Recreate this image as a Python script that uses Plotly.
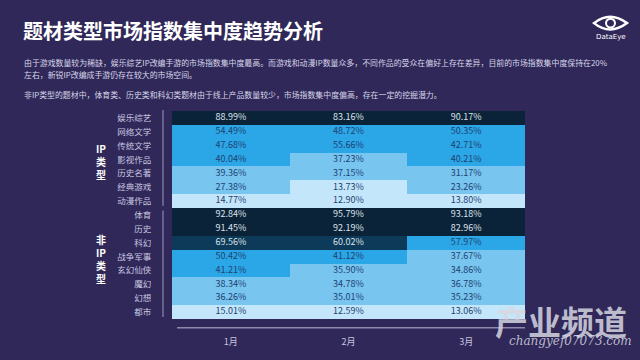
import plotly.graph_objects as go

# ---------------- data ----------------
months = ["1月", "2月", "3月"]
ip_rows = ["娱乐综艺", "网络文学", "传统文学", "影视作品", "历史名著", "经典游戏", "动漫作品"]
non_ip_rows = ["体育", "历史", "科幻", "战争军事", "玄幻仙侠", "魔幻", "幻想", "都市"]
rows = ip_rows + non_ip_rows

jan = [88.99, 54.49, 47.68, 40.04, 39.36, 27.38, 14.77,
       92.84, 91.45, 69.56, 50.42, 41.21, 38.34, 36.26, 15.01]
feb = [83.16, 48.72, 55.66, 37.23, 37.15, 13.73, 12.90,
       95.79, 92.19, 60.02, 41.12, 35.90, 34.78, 35.01, 12.59]
mar = [90.17, 50.35, 42.71, 40.21, 31.17, 23.26, 13.80,
       93.18, 82.96, 57.97, 37.67, 34.86, 36.78, 35.23, 13.06]

title = "题材类型市场指数集中度趋势分析"
para1a = "由于游戏数量较为稀缺，娱乐综艺IP改编手游的市场指数集中度最高。而游戏和动漫IP数量众多，不同作品的受众在偏好上存在差异，目前的市场指数集中度保持在20%"
para1b = "左右，新锐IP改编成手游仍存在较大的市场空间。"
para2 = "非IP类型的题材中，体育类、历史类和科幻类题材由于线上产品数量较少，市场指数集中度偏高，存在一定的挖掘潜力。"

# ---------------- layout geometry (pixels) ----------------
W, H = 640, 360
L, R, T, B = 172, 525, 111, 324
BG = "#2f2858"
FONT = "Noto Sans CJK SC"


def px(x):
    return (x - L) / (R - L)


def py(y):
    return (B - y) / (B - T)


z = [[jan[i], feb[i], mar[i]] for i in range(len(rows))]
yidx = list(range(len(rows)))

colorscale = [
    [0.0, "#c4e6fa"], [0.2, "#c4e6fa"],
    [0.2, "#78c5ef"], [0.4, "#78c5ef"],
    [0.4, "#2ba6e6"], [0.6, "#2ba6e6"],
    [0.6, "#0c3a58"], [0.8, "#0c3a58"],
    [0.8, "#0b2339"], [1.0, "#0b2339"],
]

fig = go.Figure()
fig.add_trace(go.Heatmap(
    z=z, x=[0, 1, 2], y=yidx, zmin=0, zmax=100,
    colorscale=colorscale, showscale=False, hoverinfo="skip",
))

tx, ty, tt, tc = [], [], [], []
for i in range(len(rows)):
    for j in range(3):
        v = z[i][j]
        tx.append(j)
        ty.append(i)
        tt.append(f"{v:.2f}%")
        tc.append("#dde2ea" if v >= 60 else "#1f4272")
fig.add_trace(go.Scatter(
    x=tx, y=ty, text=tt, mode="text",
    textfont=dict(size=9, color=tc, family=FONT),
    hoverinfo="skip", showlegend=False,
))

fig.update_xaxes(
    range=[-0.5, 2.5], tickvals=[0, 1, 2], ticktext=months,
    ticks="outside", ticklen=14, tickcolor="rgba(0,0,0,0)",
    tickfont=dict(size=9, color="#c9c6e0", family=FONT),
    showgrid=False, zeroline=False, showline=False,
)
fig.update_yaxes(
    range=[len(rows) - 0.5, -0.5], tickvals=yidx, ticktext=rows,
    ticks="outside", ticklen=18, tickcolor="rgba(0,0,0,0)",
    tickfont=dict(size=8.5, color="#c9c6e0", family=FONT),
    showgrid=False, zeroline=False, showline=False,
)

shapes = [
    # group separators
    dict(type="line", xref="paper", yref="paper", x0=px(163), x1=px(163),
         y0=py(110), y1=py(208), line=dict(color="#8c89ad", width=1.2)),
    dict(type="line", xref="paper", yref="paper", x0=px(163), x1=px(163),
         y0=py(213), y1=py(322), line=dict(color="#8c89ad", width=1.2)),
    # bottom axis line
    dict(type="line", xref="paper", yref="paper", x0=px(177), x1=px(525),
         y0=py(333), y1=py(333), line=dict(color="#8c89ad", width=1.5)),
    # DataEye eye logo
    dict(type="path", xref="paper", yref="paper",
         path=(f"M {px(594)},{py(21)} Q {px(610)},{py(8)} {px(627)},{py(21)} "
               f"Q {px(610)},{py(34)} {px(594)},{py(21)} Z"),
         line=dict(color="white", width=2.5), fillcolor="rgba(0,0,0,0)"),
    dict(type="circle", xref="paper", yref="paper",
         x0=px(606), x1=px(615), y0=py(16.5), y1=py(25.5),
         line=dict(color="white", width=2), fillcolor="rgba(0,0,0,0)"),
]

ann = [
    dict(text=f"<b>{title}</b>", x=px(21), y=py(29), xanchor="left", yanchor="middle",
         font=dict(size=20, color="white", family=FONT)),
    dict(text=para1a, x=px(22), y=py(61), xanchor="left", yanchor="middle",
         font=dict(size=7.9, color="#d8d6ea", family=FONT)),
    dict(text=para1b, x=px(22), y=py(74), xanchor="left", yanchor="middle",
         font=dict(size=7.9, color="#d8d6ea", family=FONT)),
    dict(text=para2, x=px(22), y=py(94), xanchor="left", yanchor="middle",
         font=dict(size=7.9, color="#d8d6ea", family=FONT)),
    dict(text="DataEye", x=px(611), y=py(35), xanchor="center", yanchor="middle",
         font=dict(size=7, color="white", family="DejaVu Sans")),
    dict(text="<b>IP<br>类<br>型</b>", x=px(101), y=py(163), xanchor="center", yanchor="middle",
         font=dict(size=10, color="white", family=FONT)),
    dict(text="<b>非<br>IP<br>类<br>型</b>", x=px(101), y=py(263), xanchor="center", yanchor="middle",
         font=dict(size=10, color="white", family=FONT)),
    # site watermark
    dict(text="<b>产业频道</b>", x=px(561), y=py(326), xanchor="center", yanchor="middle",
         font=dict(size=33, color="rgba(215,215,225,0.85)", family=FONT)),
    dict(text="<i>changyef07073.com</i>", x=px(570), y=py(347), xanchor="center", yanchor="middle",
         font=dict(size=12, color="rgba(215,215,225,0.85)", family="DejaVu Serif")),
]
for a in ann:
    a.update(xref="paper", yref="paper", showarrow=False)

fig.update_layout(
    width=W, height=H,
    margin=dict(l=L, r=W - R, t=T, b=H - B),
    paper_bgcolor=BG, plot_bgcolor=BG,
    shapes=shapes, annotations=ann, showlegend=False,
    font=dict(family=FONT),
)

fig.write_html(
    "out.html",
    config={"displayModeBar": False},
    post_script="document.body.style.margin='0';document.body.style.background='" + BG + "';",
)
